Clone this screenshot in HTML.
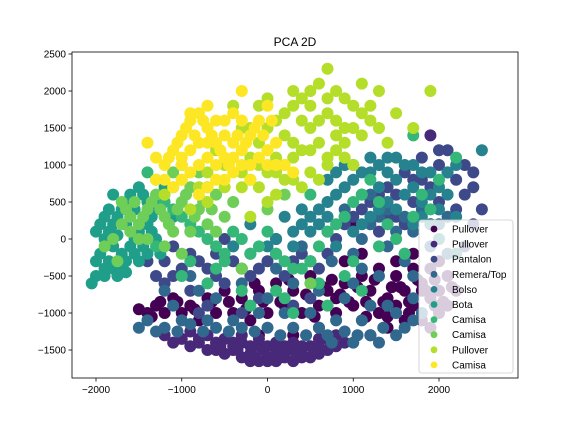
<!DOCTYPE html>
<html><head><meta charset="utf-8"><style>
html,body{margin:0;padding:0;background:#fff;}
svg text{font-family:"Liberation Sans","DejaVu Sans",sans-serif;}
</style></head><body>
<svg id="chart" width="576" height="432" viewBox="0 0 576 432" xmlns="http://www.w3.org/2000/svg">
<rect width="576" height="432" fill="#fff"/>
<text x="295" y="46" font-size="12" text-anchor="middle">PCA 2D</text>
<g id="points"></g>
<rect x="72" y="52" width="446" height="326" fill="none" stroke="#000" stroke-width="0.8"/>
<g id="xticks"></g>
<g id="yticks"></g>
<g id="legend"></g>
</svg>
<script>
const xTicks=[-2000,-1000,0,1000,2000];
const yTicks=[-1500,-1000,-500,0,500,1000,1500,2000,2500];
const labels=["Pullover","Pullover","Pantalon","Remera/Top","Bolso","Bota","Camisa","Camisa","Pullover","Camisa"];
const colors=["#440154","#482878","#3e4989","#31688e","#26828e","#1f9e89","#35b779","#6ece58","#b5de2b","#fde725"];
const class0=[[1800,-600],[1900,-800],[2000,-700],[1700,-900],[1600,-700],[1500,-500],[1400,-800],[1300,-1000],[1200,-700],[1100,-500],[1000,-900],[900,-600],[800,-1000],[1700,-400],[1900,-400],[2100,-500],[2000,-1000],[1800,-1100],[1600,-1100],[1500,-300],[1300,-400],[1100,-200],[900,-300],[700,-700],[600,-900],[500,-500],[400,-1000],[300,-700],[200,-900],[100,-600],[0,-1000],[-100,-700],[-200,-1100],[-300,-800],[-400,-1000],[-500,-700],[-600,-1000],[-700,-800],[-800,-1100],[-900,-900],[-1000,-1000],[-1100,-800],[-1200,-1000],[-1300,-900],[-1400,-1000],[1400,-1200],[1200,-1300],[1700,-200],[2000,-300],[2200,-700],[1900,-1200],[1000,200],[300,-1300],[-100,-1300],[600,-1200],[1500,-900],[1800,-700],[2100,-900],
[1850,-700],[1950,-550],[2050,-850],[1750,-550],[1650,-850],[1550,-650],[1450,-650],[1350,-850],[1250,-550],[1150,-850],[1050,-650],[950,-850],[850,-750],[750,-550],[650,-650],[450,-750],[250,-550],[150,-850],[-50,-850],[-250,-950],[-450,-850],[-650,-850],[-850,-950],[-1050,-850],[-1250,-850],[1650,-1000],[1950,-900],[2150,-650],[1400,-1050],[1150,-1050],[800,-800],[550,-1050],[-150,-600],[-1350,-1050],[-1500,-950]];
const class1=[[-1200,-1300],[-1000,-1350],[-800,-1400],[-600,-1450],[-400,-1500],[-200,-1550],[0,-1600],[200,-1600],[400,-1600],[600,-1550],[800,-1450],[-700,-1300],[-500,-1350],[-300,-1400],[-100,-1450],[100,-1500],[300,-1500],[500,-1450],[700,-1350],[-900,-1250],[-100,-1350],[100,-1400],[300,-1400],[-300,-1300],[0,-1650],[200,-1500],[-200,-1650],[400,-1550],[600,-1450],[-400,-1400],[1900,1400],[-600,-1500],[100,-1550],[-50,-1500],
[-1100,-1400],[-900,-1450],[-700,-1500],[-500,-1550],[-300,-1600],[-100,-1650],[100,-1650],[300,-1650],[500,-1600],[700,-1500],[900,-1400],[-800,-1350],[-600,-1400],[-400,-1450],[-200,-1450],[0,-1450],[200,-1450],[400,-1450],[600,-1350],[800,-1300],[150,-1600],[-150,-1600],[350,-1580],[-350,-1500],[550,-1500],[-550,-1450]];
const class2=[[-1200,-600],[-1000,-400],[-800,-300],[-600,-500],[-400,-300],[-200,-500],[0,-300],[200,-500],[400,-200],[600,-400],[800,0],[1000,300],[1200,500],[1400,700],[1600,900],[1800,800],[2000,1000],[2200,800],[2400,700],[2500,400],[2000,500],[1700,500],[1500,300],[1300,100],[-900,-700],[-700,-900],[-1400,-300],[-1100,-100],[-500,0],[100,0],[2300,1000],[2400,200],[2100,1200],[1800,1100],[2300,-100],[1900,200],[-300,-1000],[-800,-1000],[500,-800],
[-1100,-500],[-900,-200],[-700,-400],[-500,-600],[-300,-400],[-100,-400],[100,-200],[300,-300],[500,-300],[700,-200],[900,200],[1100,400],[1300,600],[1500,600],[1700,800],[1900,700],[2100,900],[2300,600],[2400,900],[2200,400],[1600,200],[1400,300],[-1300,-500],[-1200,-300],[-600,-200],[-100,-800],[300,-900],[2000,1200]];
const class3=[[-1400,-1100],[-1200,-1200],[-900,-1150],[-600,-1200],[-300,-1200],[0,-1200],[300,-1200],[600,-1200],[900,-1250],[1200,-1300],[1300,-1400],[1000,-1400],[700,-1300],[1500,-1000],[1700,-800],[1200,-900],[900,-800],[600,-700],[300,-600],[0,-800],[-300,-600],[-600,-800],[-900,-500],[-1200,-700],[1000,-200],[1300,-500],[1600,-300],[1900,-100],[2000,200],[1800,400],[1500,100],[1200,200],[900,400],[700,100],[400,-100],[100,-400],[-200,-200],[1500,-1300],[1800,-1000],[-1500,-1200],[1100,0],[1400,400],[1700,100],
[-1300,-1250],[-1050,-1250],[-750,-1250],[-450,-1250],[-150,-1250],[150,-1300],[450,-1300],[750,-1400],[1050,-1300],[1350,-1200],[1600,-1200],[1700,-1100],[1400,-900],[1100,-1100],[800,-1100],[500,-1000],[200,-1000],[-100,-1000],[-400,-1100],[-700,-1100],[-1000,-1100],[1100,-400],[1400,-100],[1700,-500],[2100,-200],[2100,300],[1600,300],[1300,300],[1000,-600],[750,-300],[1200,600],[-1100,-900],[-800,-700]];
const class4=[[0,-100],[300,100],[500,300],[700,500],[900,700],[1100,900],[1300,1000],[1500,1100],[1700,1000],[1900,900],[2100,600],[2200,300],[2000,0],[1800,300],[1600,600],[1400,500],[1200,300],[1000,100],[800,-100],[600,200],[400,400],[200,300],[1100,600],[1300,700],[1500,800],[1700,700],[1900,600],[2100,900],[1200,1100],[900,1000],[700,800],[-200,200],[-400,-100],[2200,-200],[1600,-200],[2500,1200],
[100,0],[400,200],[600,400],[800,600],[1000,800],[1200,900],[1400,900],[1600,1000],[1800,900],[2000,700],[2000,400],[1900,200],[1700,200],[1500,400],[1300,400],[1100,200],[900,300],[700,300],[500,100],[300,-100],[1400,1100],[1000,1000],[800,900],[2200,1000],[1800,500]];
const class5=[[-2000,-300],[-1900,-500],[-1800,-400],[-1700,-200],[-1900,0],[-1800,200],[-1700,400],[-1600,600],[-1500,700],[-1400,500],[-1600,300],[-1500,100],[-1600,-100],[-1700,-300],[-1800,-100],[-2000,100],[-1900,300],[-1400,200],[-1300,0],[-1300,400],[-1200,700],[-1500,-300],[-1400,-200],[-1100,300],[-1800,600],[-2000,-500],[-1650,-450],[-1750,50],[-1250,-200],
[-1950,-200],[-1850,-300],[-1750,-500],[-1650,-300],[-1850,100],[-1750,300],[-1650,500],[-1550,400],[-1450,600],[-1550,0],[-1450,-100],[-1650,200],[-1950,200],[-1850,400],[-1350,100],[-1350,300],[-1250,500],[-1550,-200],[-1700,-400],[-1900,-400],[-2050,-600]];
const class6=[[-1200,500],[-1000,300],[-800,100],[-600,-100],[-400,100],[-200,-200],[0,100],[200,-300],[400,-400],[600,-100],[800,200],[1000,500],[1200,800],[1400,200],[1600,-200],[1800,600],[2000,800],[-1300,-100],[-900,-300],[-700,-600],[-500,-300],[-300,-700],[100,-700],[300,-1000],[700,-900],[900,-500],[1100,-700],[-1400,900],[-1000,1000],[-700,700],[2200,1100],[1700,1400],[1300,-100],[500,600],
[-1100,400],[-900,200],[-700,0],[-500,-200],[-300,0],[-100,-100],[100,-200],[300,-400],[500,-300],[700,100],[900,300],[1100,600],[1300,500],[1500,0],[1700,300],[1900,400],[-1000,-500],[-600,-400],[-200,-900],[200,-800],[600,-600],[1000,-300]];
const class7=[[-1700,500],[-1600,300],[-1500,200],[-1400,400],[-1300,600],[-1200,300],[-1100,100],[-1000,500],[-900,700],[-800,400],[-700,200],[-600,600],[-500,300],[-1600,100],[-1400,0],[-1200,-100],[-1000,-200],[-1300,800],[-1100,900],[-800,900],[-400,500],[-200,800],[0,400],[-1900,-100],[-1750,-300],[200,600],[-300,-400],[500,-600],
[-1650,400],[-1550,500],[-1450,300],[-1350,500],[-1250,400],[-1150,200],[-1050,400],[-950,600],[-850,300],[-750,500],[-650,400],[-1500,0],[-1700,200],[-1800,0],[-1100,700],[-900,100],[-600,100]];
const class8=[[0,1500],[200,1700],[400,1900],[600,2100],[800,2000],[1000,1800],[1200,1600],[1100,1400],[900,1500],[700,1700],[500,1500],[300,1300],[100,1100],[-100,1300],[-300,1500],[-200,1100],[0,900],[200,1000],[400,1200],[600,1300],[800,1200],[-100,700],[100,600],[300,800],[500,900],[700,1000],[900,1100],[-300,900],[-500,700],[-700,500],[-900,400],[-1000,800],[-1200,600],[-600,1200],[-400,1800],[0,1900],[300,2000],[700,2300],[1100,2100],[1300,2000],[1500,1700],[1700,1500],[1900,2000],[800,1600],[0,500],[-200,300],[1000,1000],[1400,1300],[-700,900],
[100,1600],[300,1800],[500,2000],[700,1900],[900,1900],[1100,1700],[1000,1500],[800,1400],[600,1600],[400,1600],[200,1400],[0,1200],[-200,1500],[-100,1000],[100,900],[300,1100],[500,1200],[700,1100],[600,800],[400,700],[200,800],[-300,700],[-500,1000],[-800,700],[900,1300],[1200,1800],[1300,1500],[-100,1800],[500,1800]];
const class9=[[-1200,1000],[-1100,1200],[-1000,1400],[-900,1600],[-800,1700],[-700,1500],[-600,1300],[-500,1100],[-400,900],[-300,1200],[-200,1400],[-100,1600],[0,1800],[-400,1700],[-600,1600],[-800,1300],[-1000,1100],[-900,900],[-700,1100],[-500,1400],[-300,1000],[-100,1100],[100,1300],[200,1000],[-1300,800],[-1100,700],[-800,600],[-600,800],[-200,800],[0,1000],[300,900],[-400,1300],[-1400,1300],[-700,1800],[-300,2000],
[-1150,1100],[-1050,1300],[-950,1500],[-850,1400],[-750,1600],[-650,1400],[-550,1200],[-450,1000],[-350,1400],[-250,1300],[-150,1500],[-50,1400],[50,1600],[-500,1600],[-700,1300],[-900,1200],[-1000,1000],[-800,1000],[-600,1000],[-400,1100],[-200,1000],[0,1200],[100,1000],[-1200,800],[-1000,800],[-700,700],[-500,800],[-300,1600],[-900,1700],[-1300,1100]];
const classes=[class0,class1,class2,class3,class4,class5,class6,class7,class8,class9];

const NS="http://www.w3.org/2000/svg";
function xScale(v){return 267.5+v*0.08575;}
function yScale(v){return 239-v*0.074;}
function mk(tag,attrs,parent){const e=document.createElementNS(NS,tag);for(const k in attrs)e.setAttribute(k,attrs[k]);parent.appendChild(e);return e;}

const pg=document.getElementById('points');
classes.forEach((pts,ci)=>{
  const g=mk('g',{},pg);
  
  
  pts.forEach(p=>{
    const c=mk('circle',{cx:xScale(p[0]),cy:yScale(p[1]),r:6,fill:colors[ci]},g);
    
    
  });
});

const xg=document.getElementById('xticks');
xTicks.forEach(t=>{
  const x=xScale(t);
  const l=mk('line',{x1:x,x2:x,y1:378,y2:381.5,stroke:'#000','stroke-width':0.8},xg);
  
  
  const tx=mk('text',{x:x,y:393,'font-size':10,'text-anchor':'middle'},xg);
  tx.textContent=t<0?'\u2212'+(-t):String(t);
  
  
});
const yg=document.getElementById('yticks');
yTicks.forEach(t=>{
  const y=yScale(t);
  const l=mk('line',{x1:68.5,x2:72,y1:y,y2:y,stroke:'#000','stroke-width':0.8},yg);
  
  
  const tx=mk('text',{x:66,y:y+3.5,'font-size':10,'text-anchor':'end'},yg);
  tx.textContent=t<0?'\u2212'+(-t):String(t);
  
  
});

const lg=document.getElementById('legend');
const box=mk('rect',{x:419,y:220,width:94,height:153,rx:2.5,fill:'#fff','fill-opacity':0.8,stroke:'#ccc','stroke-width':0.8},lg);


labels.forEach((lab,i)=>{
  const y=229+i*15.1;
  const g=mk('g',{},lg);
  
  
  mk('circle',{cx:434,cy:y,r:3.4,fill:colors[i]},g);
  const tx=mk('text',{x:452,y:y+3.5,'font-size':10},g);
  tx.textContent=lab;
});
</script>
</body></html>
